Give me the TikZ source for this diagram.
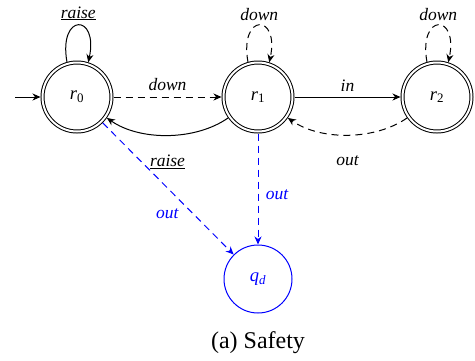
\documentclass[tikz,border=0pt]{standalone}
\usepackage{fontspec}
\setmainfont{Liberation Serif}[ItalicFont={Liberation Serif Italic}]
\usetikzlibrary{arrows.meta}
\begin{document}
\begin{tikzpicture}[x=1pt,y=-1pt,line width=1pt,
  lbl/.style={font=\fontsize{17.5}{20}\selectfont\itshape, inner sep=0pt},
  acc/.style={circle, draw, double, double distance=2pt, minimum size=69pt, inner sep=0pt, outer sep=2pt, font=\fontsize{18.5}{20}\selectfont},
  dead/.style={circle, draw=blue, text=blue, minimum size=68pt, inner sep=0pt, outer sep=0.5pt, font=\fontsize{18.5}{20}\selectfont},
  tip/.style={-{Stealth[length=8pt,width=7pt,inset=2.5pt]}},
  dsh/.style={dash pattern=on 7pt off 5pt},
  bl/.style={draw=blue, blue}
]
\useasboundingbox (0,0) rectangle (475,360);
\node[acc] (r0) at (77,97) {\textit{r}\textsubscript{0}};
\node[acc] (r1) at (258,97) {\textit{r}\textsubscript{1}};
\node[acc] (r2) at (437,97) {\textit{r}\textsubscript{2}};
\node[dead] (qd) at (258,279) {\textit{q}\textsubscript{\textit{d}}};
\coordinate (init) at (15,97);

\draw[tip] (init) -- (r0);
% loops
\draw[tip] (r0.106) .. controls +(-100:50) and +(-78:50) .. node[lbl, yshift=12pt] (l0) {\underline{raise}} (r0.72);
\draw[tip, dsh] (r1.106) .. controls +(-100:50) and +(-78:50) .. node[lbl, yshift=11pt] (l1) {down} (r1.72);
\draw[tip, dsh] (r2.106) .. controls +(-100:50) and +(-78:50) .. node[lbl, yshift=11pt] (l2) {down} (r2.72);
% edges
\draw[tip, dsh] (r0) -- node[lbl, yshift=12pt] (l3) {down} (r1);
\draw[tip] (r1) -- node[lbl, yshift=11pt] (l4) {in} (r2);
\draw[tip] (r1) to[bend left=35, looseness=0.85] node[lbl, yshift=-27pt] (l5) {\underline{raise}} (r0);
\draw[tip, dsh] (r2) to[bend left=35, looseness=0.85] node[lbl, yshift=-26pt] (l6) {out} (r1);
\draw[tip, dsh, bl] (r1) -- node[lbl, xshift=19pt, yshift=-6pt] (l7) {out} (qd);
\draw[tip, dsh, bl] (r0) -- node[lbl, xshift=-1pt, yshift=-25pt] (l8) {out} (qd);
\node[font=\fontsize{24}{28}\selectfont] (cap) at (258,343) {(a) Safety};
\end{tikzpicture}
\end{document}
